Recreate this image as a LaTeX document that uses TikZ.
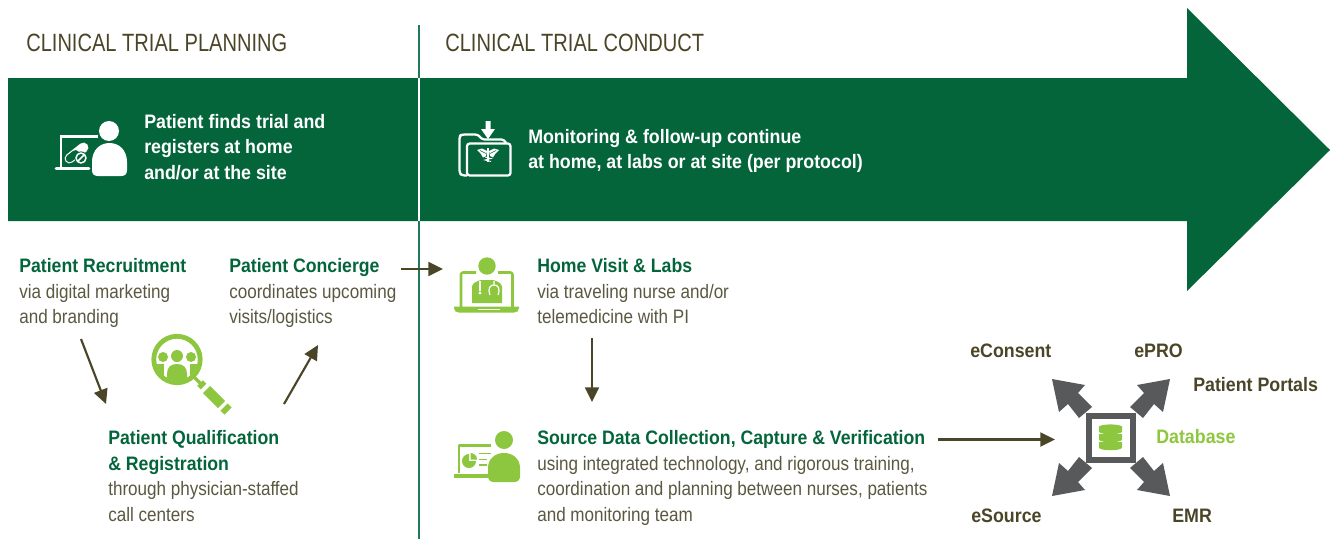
\documentclass[tikz,border=0pt]{standalone}
\usepackage{fontspec}
\setmainfont{Liberation Sans}
\newfontfamily\rgf{Liberation Sans}[FakeStretch=0.877]
\newfontfamily\bdf{Liberation Sans Bold}[FakeStretch=0.915]
\newfontfamily\bdt{Liberation Sans Bold}[FakeStretch=0.908]
\newfontfamily\ttlf{Liberation Sans}[FakeStretch=0.803]
\usetikzlibrary{arrows.meta}
\definecolor{dkgreen}{HTML}{04653B}
\definecolor{ltgreen}{HTML}{8DC63F}
\definecolor{olive}{HTML}{4B4528}
\definecolor{bodytxt}{HTML}{5A5840}
\definecolor{dgray}{HTML}{58595B}
\definecolor{rulegreen}{HTML}{1F7A5C}
\newcommand{\fl}{\rule{0pt}{12pt}}
\newcommand{\tg}[1]{{\bdt\color{dkgreen}#1}}
\tikzset{
 x=0.75pt,y=-0.75pt,
 block/.style={anchor=north west,inner sep=0pt,align=left,text=bodytxt,font=\fontsize{14.6}{19.3}\selectfont\rgf},
 bandtxt/.style={anchor=north west,inner sep=0pt,align=left,text=white,font=\fontsize{14.6}{19.2}\selectfont\bdf},
 heading/.style={anchor=base west,inner sep=0pt,text=olive,font=\fontsize{18.75}{22}\selectfont\ttlf},
 dblabel/.style={anchor=base west,inner sep=0pt,text=olive,font=\fontsize{14.6}{18}\selectfont\bdf},
 flow/.style={draw=olive,line width=1.6pt,-{Triangle[length=11pt,width=10.5pt]}},
 laptop/.style={draw=ltgreen,line width=1.9pt,line join=round},
}
\begin{document}
\begin{tikzpicture}
\useasboundingbox (0,0) rectangle (1331,539);
% band arrow
\path[fill=dkgreen] (8,78) -- (1187,78) -- (1187,8) -- (1330,150) -- (1187,291) -- (1187,221) -- (8,221) -- cycle;
% divider
\draw[draw=rulegreen,line width=1.1pt] (419,25) -- (419,78);
\draw[draw=white,line width=1.1pt] (419,78) -- (419,221);
\draw[draw=rulegreen,line width=1.1pt] (419,221) -- (419,539);
% headings
\node[heading] (hplan) at (26,51) {CLINICAL TRIAL PLANNING};
\node[heading] (hcond) at (445,51) {CLINICAL TRIAL CONDUCT};
% band text
\node[bandtxt] (bt1) at (144,112) {\fl Patient finds trial and\\registers at home\\and/or at the site};
\node[bandtxt] (bt2) at (528,127) {\fl Monitoring \& follow-up continue\\at home, at labs or at site (per protocol)};
% lower text
\node[block] (recruit) at (19,256) {\fl\tg{Patient Recruitment}\\via digital marketing\\and branding};
\node[block] (concierge) at (229,256) {\fl\tg{Patient Concierge}\\coordinates upcoming\\visits/logistics};
\node[block] (qualif) at (108,428) {\fl\tg{Patient Qualification}\\\tg{\& Registration}\\through physician-staffed\\call centers};
\node[block] (home) at (537,256) {\fl\tg{Home Visit \& Labs}\\via traveling nurse and/or\\telemedicine with PI};
\node[block] (source) at (537,428) {\fl\tg{Source Data Collection, Capture \& Verification}\\using integrated technology, and rigorous training,\\coordination and planning between nurses, patients\\and monitoring team};
% db labels
\node[dblabel] (econsent) at (970,357) {eConsent};
\node[dblabel] (epro) at (1134,357) {ePRO};
\node[dblabel] (portals) at (1193,391) {Patient Portals};
\node[dblabel,text=ltgreen] (database) at (1156,443) {Database};
\node[dblabel] (esource) at (971,522) {eSource};
\node[dblabel] (emr) at (1172,522) {EMR};
% connector ends
\coordinate (a1) at (81,339); \coordinate (a2) at (106,404);
\coordinate (b1) at (284,404); \coordinate (b2) at (318,345);
\coordinate (c1) at (401,269); \coordinate (c2) at (443,269);
\coordinate (d1) at (592,338); \coordinate (d2) at (592,402);
\coordinate (e1) at (938,439.5); \coordinate (e2) at (1055,439.5);
\draw[flow] (a1) -- (a2);
\draw[flow] (b1) -- (b2);
\draw[flow] (c1) -- (c2);
\draw[flow] (d1) -- (d2);
\draw[flow] (e1) -- (e2);
% ---- icon 1: patient at laptop (white)
\fill[white] (109,131) circle (10);
\fill[white] (92,162) .. controls (92,150) and (100,143) .. (109.5,143) .. controls (119,143) and (127,150) .. (127,162) -- (127,170) .. controls (127,174) and (125,176) .. (121,176) -- (98,176) .. controls (94,176) and (92,174) .. (92,170) -- cycle;
\draw[white,line width=1.6pt] (98,136.5) -- (61,136.5) -- (61,167);
\draw[white,line width=2.2pt,line cap=round] (56,168.5) -- (89,168.5);
% pill: capsule outline with filled upper half
\draw[white,line width=7.4pt,line cap=round] (69.5,158.5) -- (83.5,147.5);
\draw[dkgreen,line width=5.6pt,line cap=round] (69.5,158.5) -- (75.5,153.8);
\fill[dkgreen] (81,158) circle (6.6);
\draw[white,line width=1.1pt] (81,158) circle (5);
\draw[white,line width=1.1pt] (77.5,161.5) -- (84.5,154.5);
% ---- icon 2: folder with caduceus
\draw[white,line width=1.7pt,line join=round,rounded corners=2pt] (467,175.5) -- (462,175.5) -- (459.5,173) -- (459.5,136) -- (462,134.5) -- (478,134.5) -- (482,139.5) -- (504,139.5) -- (506,143);
\fill[white] (485.5,121) -- (490.5,121) -- (490.5,129) -- (495,129) -- (488,139) -- (481,129) -- (485.5,129) -- cycle;
\draw[white,line width=1.7pt,rounded corners=2pt] (467,143.5) rectangle (510.5,175.5);
\draw[white,line width=1pt] (488,148) -- (488,162);
\fill[white] (487,151) -- (482,148.5) -- (477,150) -- (479,152) -- (480.5,153.5) -- (483,157.5) -- (486,156) -- cycle;
\fill[white] (489,151) -- (494,148.5) -- (499,150) -- (497,152) -- (495.5,153.5) -- (493,157.5) -- (490,156) -- cycle;
\draw[dkgreen,line width=.4pt] (480,150.5) -- (486,153.5);
\draw[dkgreen,line width=.4pt] (496,150.5) -- (490,153.5);
\draw[white,line width=.7pt] (485,157) -- (491,158.5) -- (485,160) -- (491,161.5);
% ---- icon 3: magnifier with people
\draw[ltgreen,line width=3.6pt] (177,359.5) circle (23.2);
\begin{scope}
\clip (177,359.5) circle (21);
\fill[ltgreen] (163,357) circle (5);
\fill[ltgreen] (191,357) circle (5);
\fill[ltgreen] (150,364) rectangle (164,385);
\fill[ltgreen] (190,364) rectangle (204,385);
\fill[ltgreen] (167,374) .. controls (167,367) and (171,364) .. (177,364) .. controls (183,364) and (187,367) .. (187,374) -- (187,390) -- (167,390) -- cycle;
\end{scope}
\fill[ltgreen] (177,356) circle (6);
\draw[ltgreen,line width=2.5pt] (194,377) -- (201,384);
\draw[ltgreen,line width=6pt] (200,383) -- (203.5,386.5);
\draw[ltgreen,line width=7.5pt] (206.5,389.5) -- (221.5,404.5);
\draw[ltgreen,line width=7.5pt] (224,407) -- (228,411);
% ---- icon 4: doctor at laptop
\draw[laptop,rounded corners=1.5pt] (476,272.5) -- (461,272.5) -- (461,307);
\draw[laptop,rounded corners=1.5pt] (498,272.5) -- (512.5,272.5) -- (512.5,307);
\fill[ltgreen] (454,306.5) -- (519,306.5) -- (519,308) .. controls (519,311) and (517,312.5) .. (514,312.5) -- (459,312.5) .. controls (456,312.5) and (454,311) .. (454,308) -- cycle;
\fill[white] (478,309) rectangle (500,310);
\fill[ltgreen] (487,266) circle (8.7);
\fill[ltgreen] (472,303) -- (472,287) .. controls (472,283) and (477,281) .. (481,280) -- (493,280) .. controls (497,281) and (502,283) .. (502,287) -- (502,303) -- cycle;
\draw[white,line width=.9pt] (480,281) -- (480,291);
\fill[white] (480,293) circle (1.6);
\draw[white,line width=.9pt] (494,281) -- (494,285) .. controls (490,285) and (487.5,288) .. (490,295);
\draw[white,line width=.9pt] (494,285) .. controls (498,285) and (500.5,288) .. (498,295);
% ---- icon 5: presenter with chart
\draw[laptop,line width=1.9pt] (491,445.5) -- (459,445.5) -- (459,473);
\draw[ltgreen,line width=3pt] (454,475.5) -- (488,475.5);
\fill[ltgreen] (504,440) circle (9);
\fill[ltgreen] (488,468) .. controls (488,458) and (496,453) .. (504,453) .. controls (512,453) and (520,458) .. (520,468) -- (520,476) .. controls (520,480) and (518,482) .. (514,482) -- (494,482) .. controls (490,482) and (488,480) .. (488,476) -- cycle;
\fill[ltgreen] (469,461) -- (469,454) arc (-90:-360:7) -- cycle;
\fill[ltgreen] (470.5,459.5) -- (477,459.5) arc (0:-90:6.5) -- cycle;
\draw[ltgreen,line width=1.4pt] (479,453.5) -- (491,453.5);
\draw[ltgreen,line width=1.4pt] (479,459.5) -- (487,459.5);
\draw[ltgreen,line width=1.4pt] (479,465) -- (487,465);
% ---- database icon
\foreach \sx/\sy in {1/1,-1/1,1/-1,-1/-1}{
\begin{scope}[shift={(1111,437.5)},xscale=\sx,yscale=\sy]
\fill[dgray] (-59,-58.5) -- (-26,-52.5) -- (-33,-44.5) -- (-19,-30.5) -- (-32,-19.5) -- (-43,-33.5) -- (-52,-25.5) -- cycle;
\end{scope}}
\draw[dgray,line width=4.6pt] (1089,416) rectangle (1133,460);
\foreach \yy in {431,439,447}{
\fill[ltgreen] (1099,\yy-5) -- (1122,\yy-5) -- (1122,\yy+1) .. controls (1119,\yy+4) and (1102,\yy+4) .. (1099,\yy+1) -- cycle;
}
\fill[ltgreen] (1110.5,427) ellipse (11.5 and 2.6);
\end{tikzpicture}
\end{document}
